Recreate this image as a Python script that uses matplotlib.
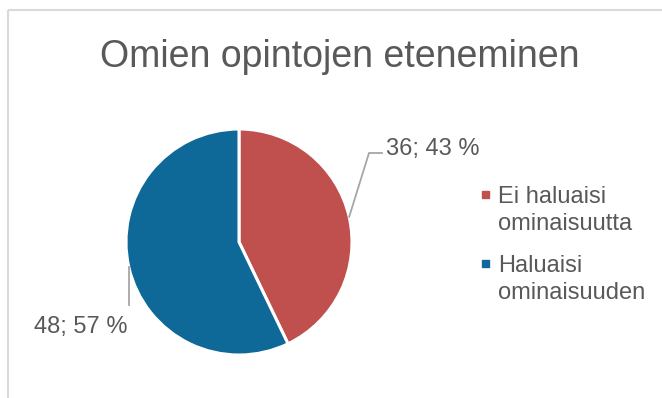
import numpy as np
import matplotlib.pyplot as plt
from matplotlib.patches import Rectangle

# data
categories = ["Ei haluaisi\nominaisuutta", "Haluaisi\nominaisuuden"]
counts = [36, 48]
colors = ["#C0504D", "#0E6898"]
title = "Omien opintojen eteneminen"

W, H = 662, 398
txt = "#595959"
plt.rcParams['font.family'] = ['Liberation Sans', 'DejaVu Sans']


def Y(py):
    # pixel row -> data y
    return H - py


fig = plt.figure(figsize=(W / 100, H / 100), dpi=100)
ax = fig.add_axes([0, 0, 1, 1])

cx, cy, r = 239, Y(242), 113
wedges, _ = ax.pie(counts, colors=colors, startangle=90, counterclock=False,
                   center=(cx, cy), radius=r,
                   wedgeprops=dict(edgecolor='white', linewidth=2.2))

ax.set_xlim(0, W)
ax.set_ylim(0, H)
ax.set_aspect('equal')
ax.axis('off')

# chart border
ax.add_patch(Rectangle((8, Y(10)), W, -H, fill=False, edgecolor="#D9D9D9", lw=1.5))

ax.text(340, Y(67), title, ha='center', va='baseline', fontsize=27, color=txt)

total = sum(counts)
labels = [f"{c}; {round(c / total * 100)} %" for c in counts]

# data labels with leader lines
mid = [np.deg2rad((w.theta1 + w.theta2) / 2) for w in wedges]
ex0, ey0 = cx + r * np.cos(mid[0]), cy + r * np.sin(mid[0])
ax.plot([ex0, 369, 382], [ey0, Y(153), Y(153)], color="#A6A6A6", lw=1.3)
ax.text(386, Y(155), labels[0], ha='left', va='baseline', fontsize=17, color=txt)

ex1, ey1 = cx + r * np.cos(mid[1]), cy + r * np.sin(mid[1])
ax.plot([ex1, ex1], [ey1, Y(305)], color="#A6A6A6", lw=1.3)
ax.text(128, Y(333), labels[1], ha='right', va='baseline', fontsize=17, color=txt)

# legend (one text per line so baselines can be placed)
leg_base = [203, 272]
for lab, col, b in zip(categories, colors, leg_base):
    ax.add_patch(Rectangle((482, Y(b) + 5), 7, 7, color=col))
    for i, line in enumerate(lab.split("\n")):
        ax.text(498, Y(b + 27 * i), line, ha='left', va='baseline',
                fontsize=17, color=txt)

fig.savefig("out.png", dpi=100)
